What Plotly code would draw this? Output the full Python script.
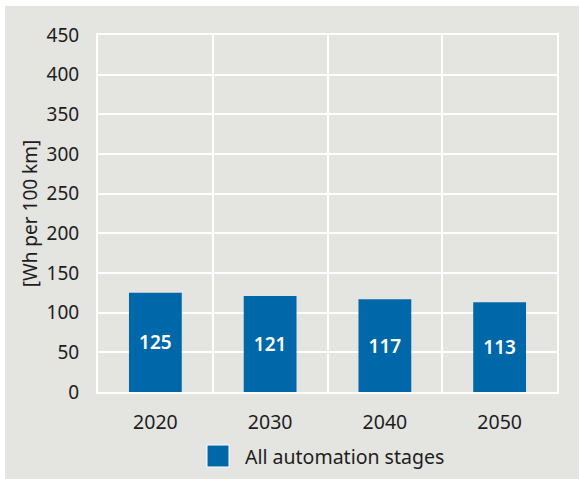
import plotly.graph_objects as go

# Energy demand per 100 km, all automation stages
years = ["2020", "2030", "2040", "2050"]
values = [125, 121, 117, 113]
series_name = "All automation stages"
y_title = "[Wh per 100 km]"
y_ticks = [0, 50, 100, 150, 200, 250, 300, 350, 400, 450]

BLUE = "#0068a9"
GREY = "#e4e4e0"
TEXT = "#1e1e1e"
FONT = "Noto Sans"
FS = 19.5

W, H = 579, 479
L, R, T, B = 98, 22, 35, 87
pw, ph = W - L - R, H - T - B


def px_x(x):
    return (x - L) / pw


def px_y(y):
    return (H - B - y) / ph


fig = go.Figure()
fig.add_trace(go.Bar(
    x=years,
    y=values,
    width=0.46,
    marker=dict(color=BLUE, line=dict(width=0)),
    text=[str(v) for v in values],
    textposition="inside",
    insidetextanchor="middle",
    textfont=dict(color="white", size=19, family=FONT, weight=600),
    textangle=0,
    name=series_name,
    showlegend=False,
    hoverinfo="x+y",
))

# legend swatch and label
fig.add_shape(type="rect", xref="paper", yref="paper",
              x0=px_x(207), x1=px_x(229), y0=px_y(467), y1=px_y(445),
              fillcolor=BLUE, line=dict(color="white", width=1))
fig.add_annotation(xref="paper", yref="paper", x=px_x(243), y=px_y(456),
                   text=series_name, showarrow=False, xanchor="left",
                   yanchor="middle", font=dict(size=FS, color=TEXT, family=FONT))

# white margin strips on top and left of the grey panel
fig.add_shape(type="rect", xref="paper", yref="paper",
              x0=px_x(-5), x1=px_x(W + 5), y0=px_y(6), y1=px_y(-5),
              fillcolor="white", line=dict(width=0), layer="below")
fig.add_shape(type="rect", xref="paper", yref="paper",
              x0=px_x(-5), x1=px_x(5), y0=px_y(H + 5), y1=px_y(-5),
              fillcolor="white", line=dict(width=0), layer="below")

fig.update_layout(
    width=W, height=H,
    margin=dict(l=L, r=R, t=T, b=B, pad=0),
    paper_bgcolor=GREY,
    plot_bgcolor=GREY,
    font=dict(family=FONT, size=FS, color=TEXT),
    showlegend=False,
)
fig.update_xaxes(
    type="category",
    range=[-0.5, 3.5],
    tickson="boundaries",
    showgrid=True, gridcolor="white", gridwidth=2,
    showline=True, linecolor="white", linewidth=2, mirror=True,
    ticks="", ticklabelstandoff=12,
    tickfont=dict(size=FS, color=TEXT, family=FONT),
    zeroline=False,
)
fig.update_yaxes(
    range=[0, 450],
    tickvals=y_ticks,
    showgrid=True, gridcolor="white", gridwidth=2,
    showline=True, linecolor="white", linewidth=2, mirror=True,
    ticks="", ticklabelstandoff=13,
    tickfont=dict(size=19, color=TEXT, family=FONT),
    zeroline=False,
    title=dict(text=y_title, font=dict(size=19, color=TEXT, family=FONT), standoff=4),
)

fig.write_html("out.html")
